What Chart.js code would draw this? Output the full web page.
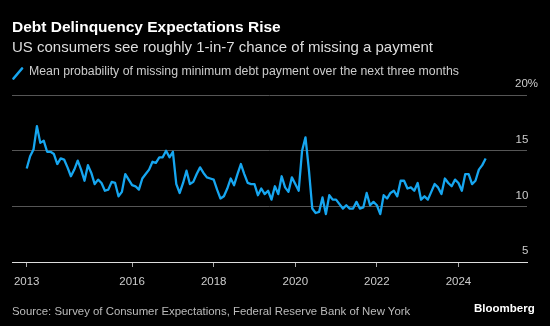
<!DOCTYPE html>
<html>
<head>
<meta charset="utf-8">
<script src="https://cdn.jsdelivr.net/npm/chart.js@4.4.1/dist/chart.umd.min.js"></script>
<style>
  html,body{margin:0;padding:0;background:#000}
  #wrap{position:relative;width:550px;height:326px;overflow:hidden;background:#000;font-family:"Liberation Sans",Arial,sans-serif}
  #c{position:absolute;left:0;top:0}
  .t{position:absolute;white-space:nowrap;line-height:1}
  #title{left:12px;top:19px;font-size:15.5px;font-weight:bold;color:#fff}
  #sub{left:12px;top:38.5px;font-size:15px;color:#ddd}
  #leg{left:29px;top:65px;font-size:12.3px;color:#ccc}
  #src{left:12px;top:306px;font-size:11.4px;color:#bbb}
  #logo{left:474px;top:303px;font-size:11.5px;font-weight:bold;color:#fff}
  #mark{position:absolute;left:12px;top:67px}
</style>
</head>
<body>
<div id="wrap">
  <canvas id="c" width="550" height="326"></canvas>
  <div class="t" id="title">Debt Delinquency Expectations Rise</div>
  <div class="t" id="sub">US consumers see roughly 1-in-7 chance of missing a payment</div>
  <svg id="mark" width="12" height="13"><line x1="1.5" y1="11.5" x2="10" y2="1.5" stroke="#16a6f0" stroke-width="2.6" stroke-linecap="round"/></svg>
  <div class="t" id="leg">Mean probability of missing minimum debt payment over the next three months</div>
  <div class="t" id="src">Source: Survey of Consumer Expectations, Federal Reserve Bank of New York</div>
  <div class="t" id="logo">Bloomberg</div>
</div>
<script>
// monthly series, June 2013 .. Sept 2024
const startYear=2013, startMonth=6
const delinquency=[
  13.4,14.5,15.1,17.2,15.7,15.9,14.9,14.9,14.7,13.8,14.3,14.2,
  13.5,12.7,13.3,14.1,13.3,12.3,13.7,13.0,12.0,12.4,12.1,11.4,
  11.5,12.2,12.1,10.9,11.3,12.9,12.4,11.9,11.8,11.5,12.5,12.9,
  13.3,14.0,13.9,14.4,14.4,15.0,14.4,14.9,12.0,11.2,12.1,13.2,
  12.0,12.2,12.9,13.5,13.0,12.6,12.5,12.4,11.5,10.7,10.9,11.6,
  12.5,11.9,12.9,13.8,12.9,12.1,12.0,12.0,11.0,11.6,11.1,11.4,
  10.6,11.8,11.1,12.7,11.7,11.3,12.6,12.0,11.4,15.0,16.2,13.3,
  9.8,9.4,9.5,10.8,9.3,11.0,10.6,10.6,10.2,9.8,10.1,9.8,
  9.8,10.4,9.8,9.9,11.2,10.1,10.4,10.1,9.3,11.0,10.7,11.2,
  11.4,10.9,12.3,12.3,11.6,11.7,11.4,12.1,10.6,10.9,10.6,11.3,
  12.0,11.7,11.1,12.5,12.1,11.8,12.4,12.1,11.4,12.9,12.9,12.0,
  12.3,13.3,13.7,14.3
]
const xTickValues=[2013+5/12,2016,2018,2020,2022,2024]
const xTickLabels=['2013','2016','2018','2020','2022','2024']
const yTickValues=[5,10,15,20]

const points=delinquency.map((v,i)=>({x:startYear+(startMonth-1+i)/12,y:v}))
const tickFont={family:'"Liberation Sans", Arial, sans-serif',size:11.5}

new Chart(document.getElementById('c').getContext('2d'),{
  type:'line',
  data:{datasets:[{data:points,borderColor:'#16a6f0',borderWidth:2.3,pointRadius:0,tension:0,fill:false,borderJoinStyle:'round'}]},
  options:{
    responsive:false,animation:false,devicePixelRatio:1,
    layout:{padding:{left:12,right:12,top:95,bottom:37}},
    plugins:{legend:{display:false},tooltip:{enabled:false}},
    scales:{
      x:{type:'linear',min:2013.056,max:2025.68,
        afterBuildTicks:s=>{s.ticks=xTickValues.map(v=>({value:v}))},
        afterFit:s=>{s.height=27},
        grid:{drawOnChartArea:false,drawTicks:true,tickLength:5,color:'#aaa'},
        border:{display:true,color:'#ddd',width:1},
        ticks:{padding:8,color:'#ccc',font:tickFont,maxRotation:0,autoSkip:false,
          callback:(v,i)=>xTickLabels[i]}
      },
      y:{position:'right',min:5,max:20,
        afterBuildTicks:s=>{s.ticks=yTickValues.map(v=>({value:v}))},
        afterFit:s=>{s.width=11},
        grid:{color:'#555',drawTicks:false},
        border:{display:false},
        ticks:{color:'#ccc',font:tickFont,mirror:true,crossAlign:'near',padding:11,labelOffset:-11,
          callback:v=>v===20?'20%':v+'   '}
      }
    }
  }
})
</script>
</body>
</html>
